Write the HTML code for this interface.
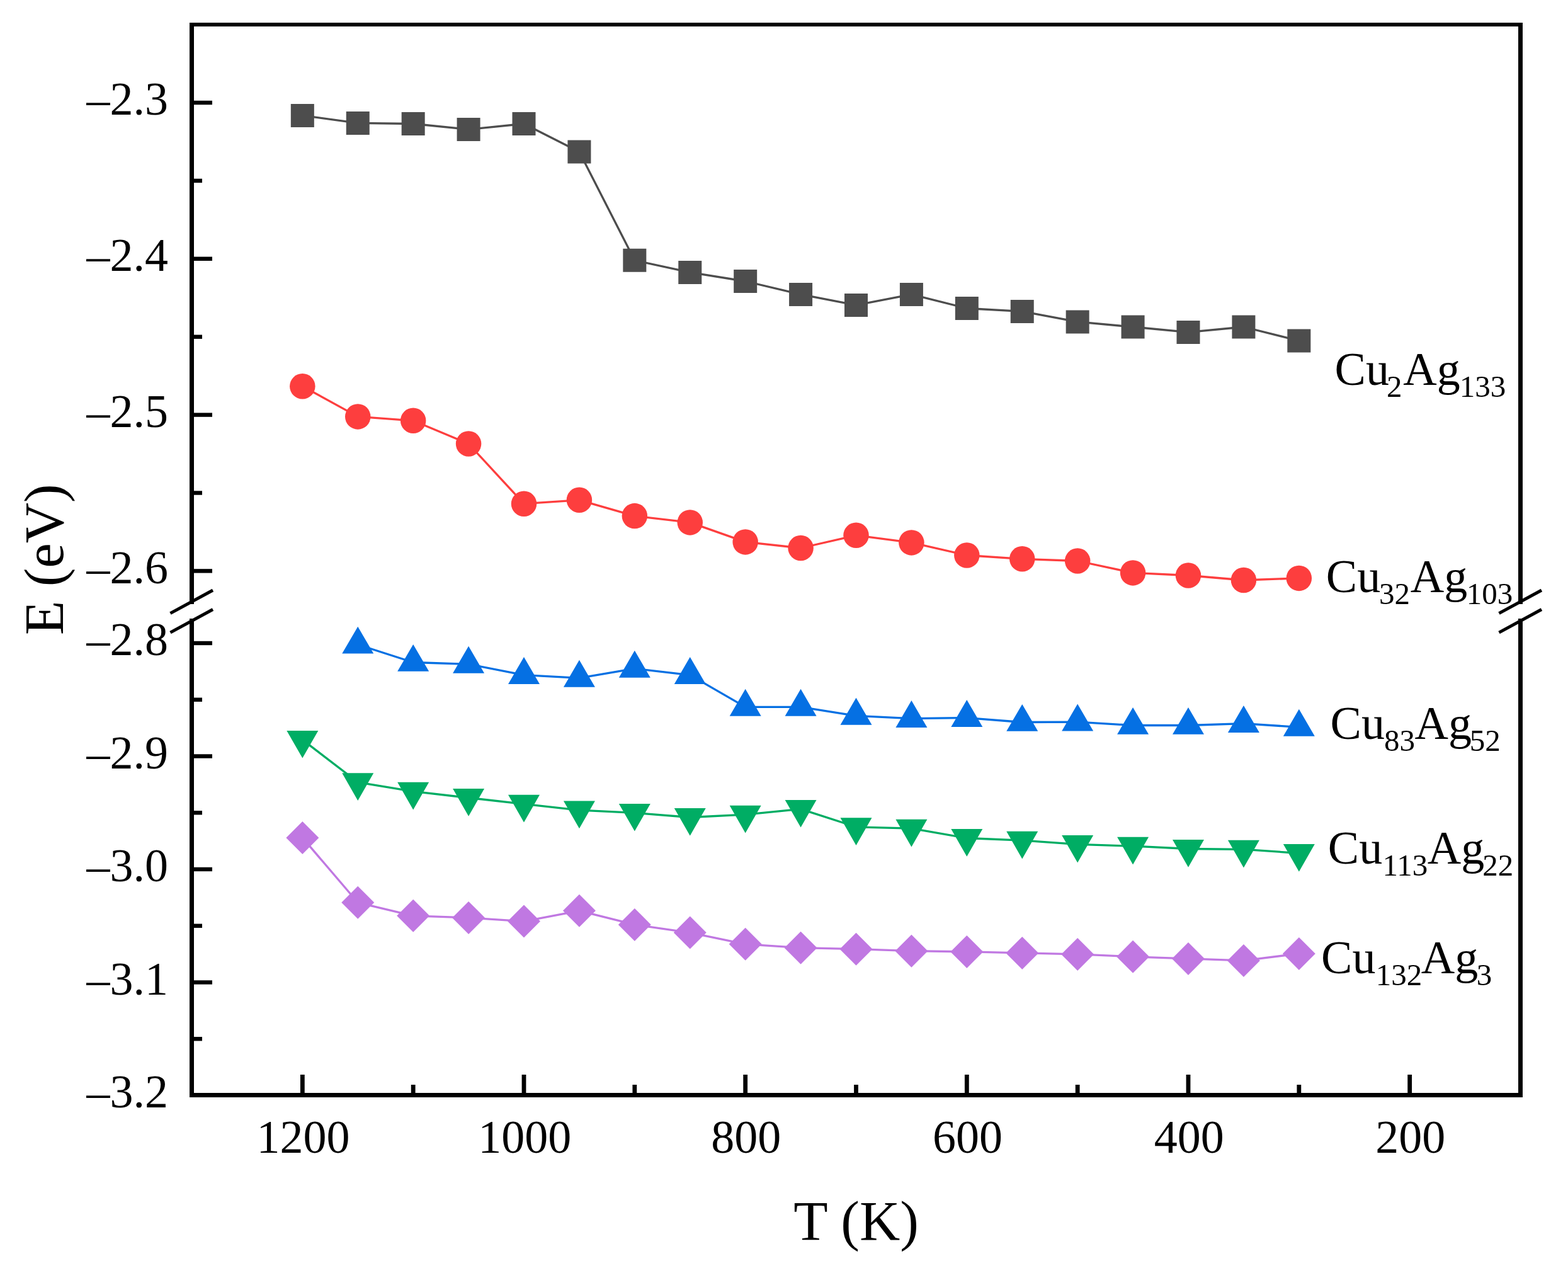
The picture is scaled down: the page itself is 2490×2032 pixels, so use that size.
<!DOCTYPE html>
<html><head><meta charset="utf-8"><title>E vs T</title>
<style>
html,body{margin:0;padding:0;background:#fff;}
body{width:2490px;height:2032px;overflow:hidden;position:relative;}
svg{position:absolute;left:0;top:0;display:block;}
text{font-family:"Liberation Serif","Times New Roman",serif;fill:#000;}
</style></head><body>
<svg width="2490" height="2032" viewBox="0 0 2490 2032">
<rect width="2490" height="2032" fill="#fff"/>
<g fill="#000"><rect x="301" y="36" width="2117" height="6"/><rect x="301" y="1735" width="2117" height="7"/><rect x="301" y="36" width="7" height="923"/><rect x="301" y="982" width="7" height="760"/><rect x="2411" y="36" width="7" height="923"/><rect x="2411" y="982" width="7" height="760"/><rect x="308" y="159.8" width="29" height="6.4"/><rect x="308" y="407.6" width="29" height="6.4"/><rect x="308" y="655.4" width="29" height="6.4"/><rect x="308" y="903.2" width="29" height="6.4"/><rect x="308" y="1017.8" width="29" height="6.4"/><rect x="308" y="1197.3" width="29" height="6.4"/><rect x="308" y="1376.8" width="29" height="6.4"/><rect x="308" y="1556.3" width="29" height="6.4"/><rect x="308" y="283.7" width="13" height="6.4"/><rect x="308" y="531.5" width="13" height="6.4"/><rect x="308" y="779.3" width="13" height="6.4"/><rect x="308" y="1107.55" width="13" height="6.4"/><rect x="308" y="1287.05" width="13" height="6.4"/><rect x="308" y="1466.55" width="13" height="6.4"/><rect x="308" y="1646.05" width="13" height="6.4"/><rect x="476.93" y="1706" width="6.8" height="30"/><rect x="828.6" y="1706" width="6.8" height="30"/><rect x="1180.27" y="1706" width="6.8" height="30"/><rect x="1531.93" y="1706" width="6.8" height="30"/><rect x="1883.6" y="1706" width="6.8" height="30"/><rect x="2235.27" y="1706" width="6.8" height="30"/><rect x="652.77" y="1722" width="6.8" height="14"/><rect x="1004.43" y="1722" width="6.8" height="14"/><rect x="1356.1" y="1722" width="6.8" height="14"/><rect x="1707.77" y="1722" width="6.8" height="14"/><rect x="2059.43" y="1722" width="6.8" height="14"/></g>
<g stroke="#000" stroke-width="5"><line x1="270.5" y1="973.6" x2="338" y2="937" /><line x1="270.5" y1="1004.1" x2="338" y2="967.5" /><line x1="2380.5" y1="973.6" x2="2448" y2="937" /><line x1="2380.5" y1="1004.1" x2="2448" y2="967.5" /></g>
<g font-size="74"><text x="267" y="182.4" text-anchor="end">&#8211;2.3</text><text x="267" y="430.2" text-anchor="end">&#8211;2.4</text><text x="267" y="678" text-anchor="end">&#8211;2.5</text><text x="267" y="925.8" text-anchor="end">&#8211;2.6</text><text x="267" y="1040.4" text-anchor="end">&#8211;2.8</text><text x="267" y="1219.9" text-anchor="end">&#8211;2.9</text><text x="267" y="1399.4" text-anchor="end">&#8211;3.0</text><text x="267" y="1578.9" text-anchor="end">&#8211;3.1</text><text x="267" y="1758.4" text-anchor="end">&#8211;3.2</text><text x="481.53" y="1830" text-anchor="middle">1200</text><text x="833.2" y="1830" text-anchor="middle">1000</text><text x="1184.87" y="1830" text-anchor="middle">800</text><text x="1536.53" y="1830" text-anchor="middle">600</text><text x="1888.2" y="1830" text-anchor="middle">400</text><text x="2239.87" y="1830" text-anchor="middle">200</text></g>
<text x="1359.6" y="1967.5" font-size="89" text-anchor="middle">T (K)</text>
<text transform="translate(100 888.1) rotate(-90)" font-size="89" text-anchor="middle">E (eV)</text>
<polyline points="480.33,183.4 568.25,195.4 656.17,196.5 744.08,205.4 832,196.5 919.92,241 1007.83,413.3 1095.75,432.4 1183.67,446.5 1271.58,467.4 1359.5,484.4 1447.42,467.4 1535.33,489.5 1623.25,494.4 1711.17,510.9 1799.08,519 1887,527.4 1974.92,519 2062.83,541" fill="none" stroke="#4d4d4d" stroke-width="3.3" stroke-linejoin="round"/><path d="M461.83 164.9h37v37h-37zM549.75 176.9h37v37h-37zM637.67 178h37v37h-37zM725.58 186.9h37v37h-37zM813.5 178h37v37h-37zM901.42 222.5h37v37h-37zM989.33 394.8h37v37h-37zM1077.25 413.9h37v37h-37zM1165.17 428h37v37h-37zM1253.08 448.9h37v37h-37zM1341 465.9h37v37h-37zM1428.92 448.9h37v37h-37zM1516.83 471h37v37h-37zM1604.75 475.9h37v37h-37zM1692.67 492.4h37v37h-37zM1780.58 500.5h37v37h-37zM1868.5 508.9h37v37h-37zM1956.42 500.5h37v37h-37zM2044.33 522.5h37v37h-37z" fill="#4d4d4d"/>
<polyline points="480.33,613.2 568.25,661.4 656.17,667.8 744.08,704.5 832,799.7 919.92,793.8 1007.83,819.1 1095.75,829.4 1183.67,860.4 1271.58,870 1359.5,849.8 1447.42,861.4 1535.33,881.5 1623.25,887.3 1711.17,890.5 1799.08,909.4 1887,913.5 1974.92,921 2062.83,917.9" fill="none" stroke="#fd3e3e" stroke-width="3.3" stroke-linejoin="round"/><circle cx="480.33" cy="613.2" r="20.25" fill="#fd3e3e"/><circle cx="568.25" cy="661.4" r="20.25" fill="#fd3e3e"/><circle cx="656.17" cy="667.8" r="20.25" fill="#fd3e3e"/><circle cx="744.08" cy="704.5" r="20.25" fill="#fd3e3e"/><circle cx="832" cy="799.7" r="20.25" fill="#fd3e3e"/><circle cx="919.92" cy="793.8" r="20.25" fill="#fd3e3e"/><circle cx="1007.83" cy="819.1" r="20.25" fill="#fd3e3e"/><circle cx="1095.75" cy="829.4" r="20.25" fill="#fd3e3e"/><circle cx="1183.67" cy="860.4" r="20.25" fill="#fd3e3e"/><circle cx="1271.58" cy="870" r="20.25" fill="#fd3e3e"/><circle cx="1359.5" cy="849.8" r="20.25" fill="#fd3e3e"/><circle cx="1447.42" cy="861.4" r="20.25" fill="#fd3e3e"/><circle cx="1535.33" cy="881.5" r="20.25" fill="#fd3e3e"/><circle cx="1623.25" cy="887.3" r="20.25" fill="#fd3e3e"/><circle cx="1711.17" cy="890.5" r="20.25" fill="#fd3e3e"/><circle cx="1799.08" cy="909.4" r="20.25" fill="#fd3e3e"/><circle cx="1887" cy="913.5" r="20.25" fill="#fd3e3e"/><circle cx="1974.92" cy="921" r="20.25" fill="#fd3e3e"/><circle cx="2062.83" cy="917.9" r="20.25" fill="#fd3e3e"/>
<polyline points="568.25,1023.3 656.17,1051.5 744.08,1054.4 832,1071.6 919.92,1076.4 1007.83,1061.4 1095.75,1071.6 1183.67,1122.4 1271.58,1122.4 1359.5,1136.4 1447.42,1140.7 1535.33,1139.6 1623.25,1146.5 1711.17,1146.1 1799.08,1151.5 1887,1151.5 1974.92,1148.6 2062.83,1154.4" fill="none" stroke="#0570e3" stroke-width="3.3" stroke-linejoin="round"/><path d="M568.25 994.7L593.25 1037.6L543.25 1037.6zM656.17 1022.9L681.17 1065.8L631.17 1065.8zM744.08 1025.8L769.08 1068.7L719.08 1068.7zM832 1043L857 1085.9L807 1085.9zM919.92 1047.8L944.92 1090.7L894.92 1090.7zM1007.83 1032.8L1032.83 1075.7L982.83 1075.7zM1095.75 1043L1120.75 1085.9L1070.75 1085.9zM1183.67 1093.8L1208.67 1136.7L1158.67 1136.7zM1271.58 1093.8L1296.58 1136.7L1246.58 1136.7zM1359.5 1107.8L1384.5 1150.7L1334.5 1150.7zM1447.42 1112.1L1472.42 1155L1422.42 1155zM1535.33 1111L1560.33 1153.9L1510.33 1153.9zM1623.25 1117.9L1648.25 1160.8L1598.25 1160.8zM1711.17 1117.5L1736.17 1160.4L1686.17 1160.4zM1799.08 1122.9L1824.08 1165.8L1774.08 1165.8zM1887 1122.9L1912 1165.8L1862 1165.8zM1974.92 1120L1999.92 1162.9L1949.92 1162.9zM2062.83 1125.8L2087.83 1168.7L2037.83 1168.7z" fill="#0570e3"/>
<polyline points="480.33,1174.4 568.25,1241.8 656.17,1256.3 744.08,1266.5 832,1276.3 919.92,1286.1 1007.83,1290.4 1095.75,1297.5 1183.67,1293.2 1271.58,1284.4 1359.5,1312.8 1447.42,1315.2 1535.33,1330.5 1623.25,1334.2 1711.17,1340.4 1799.08,1343.2 1887,1347.5 1974.92,1348.3 2062.83,1354.5" fill="none" stroke="#00ad64" stroke-width="3.3" stroke-linejoin="round"/><path d="M480.33 1203.6L505.33 1159.9L455.33 1159.9zM568.25 1271L593.25 1227.3L543.25 1227.3zM656.17 1285.5L681.17 1241.8L631.17 1241.8zM744.08 1295.7L769.08 1252L719.08 1252zM832 1305.5L857 1261.8L807 1261.8zM919.92 1315.3L944.92 1271.6L894.92 1271.6zM1007.83 1319.6L1032.83 1275.9L982.83 1275.9zM1095.75 1326.7L1120.75 1283L1070.75 1283zM1183.67 1322.4L1208.67 1278.7L1158.67 1278.7zM1271.58 1313.6L1296.58 1269.9L1246.58 1269.9zM1359.5 1342L1384.5 1298.3L1334.5 1298.3zM1447.42 1344.4L1472.42 1300.7L1422.42 1300.7zM1535.33 1359.7L1560.33 1316L1510.33 1316zM1623.25 1363.4L1648.25 1319.7L1598.25 1319.7zM1711.17 1369.6L1736.17 1325.9L1686.17 1325.9zM1799.08 1372.4L1824.08 1328.7L1774.08 1328.7zM1887 1376.7L1912 1333L1862 1333zM1974.92 1377.5L1999.92 1333.8L1949.92 1333.8zM2062.83 1383.7L2087.83 1340L2037.83 1340z" fill="#00ad64"/>
<polyline points="480.33,1329.9 568.25,1432.8 656.17,1453.8 744.08,1456.9 832,1462.6 919.92,1445.8 1007.83,1467.9 1095.75,1480.6 1183.67,1498.8 1271.58,1504.7 1359.5,1506.7 1447.42,1509.7 1535.33,1510.9 1623.25,1512.9 1711.17,1514.9 1799.08,1518.8 1887,1521.9 1974.92,1524.9 2062.83,1513.9" fill="none" stroke="#c078e2" stroke-width="3.3" stroke-linejoin="round"/><path d="M480.33 1303.9L506.33 1329.9L480.33 1355.9L454.33 1329.9zM568.25 1406.8L594.25 1432.8L568.25 1458.8L542.25 1432.8zM656.17 1427.8L682.17 1453.8L656.17 1479.8L630.17 1453.8zM744.08 1430.9L770.08 1456.9L744.08 1482.9L718.08 1456.9zM832 1436.6L858 1462.6L832 1488.6L806 1462.6zM919.92 1419.8L945.92 1445.8L919.92 1471.8L893.92 1445.8zM1007.83 1441.9L1033.83 1467.9L1007.83 1493.9L981.83 1467.9zM1095.75 1454.6L1121.75 1480.6L1095.75 1506.6L1069.75 1480.6zM1183.67 1472.8L1209.67 1498.8L1183.67 1524.8L1157.67 1498.8zM1271.58 1478.7L1297.58 1504.7L1271.58 1530.7L1245.58 1504.7zM1359.5 1480.7L1385.5 1506.7L1359.5 1532.7L1333.5 1506.7zM1447.42 1483.7L1473.42 1509.7L1447.42 1535.7L1421.42 1509.7zM1535.33 1484.9L1561.33 1510.9L1535.33 1536.9L1509.33 1510.9zM1623.25 1486.9L1649.25 1512.9L1623.25 1538.9L1597.25 1512.9zM1711.17 1488.9L1737.17 1514.9L1711.17 1540.9L1685.17 1514.9zM1799.08 1492.8L1825.08 1518.8L1799.08 1544.8L1773.08 1518.8zM1887 1495.9L1913 1521.9L1887 1547.9L1861 1521.9zM1974.92 1498.9L2000.92 1524.9L1974.92 1550.9L1948.92 1524.9zM2062.83 1487.9L2088.83 1513.9L2062.83 1539.9L2036.83 1513.9z" fill="#c078e2"/>
<text x="2119.6" y="611.2" font-size="74">Cu<tspan x="2201.95" dy="19.2" font-size="49">2</tspan><tspan x="2228.3" dy="-19.2">Ag</tspan><tspan x="2317.7" dy="19.2" font-size="49">133</tspan></text>
<text x="2105.8" y="940.2" font-size="74">Cu<tspan x="2189.95" dy="19.2" font-size="49">32</tspan><tspan x="2239.7" dy="-19.2">Ag</tspan><tspan x="2328.7" dy="19.2" font-size="49">103</tspan></text>
<text x="2112.6" y="1172.9" font-size="74">Cu<tspan x="2197.9" dy="19.2" font-size="49">83</tspan><tspan x="2246.5" dy="-19.2">Ag</tspan><tspan x="2333.85" dy="19.2" font-size="49">52</tspan></text>
<text x="2108.8" y="1370.7" font-size="74">Cu<tspan x="2195.5" dy="19.2" font-size="49">113</tspan><tspan x="2266.8" dy="-19.2">Ag</tspan><tspan x="2354.15" dy="19.2" font-size="49">22</tspan></text>
<text x="2098.1" y="1545" font-size="74">Cu<tspan x="2184.8" dy="19.2" font-size="49">132</tspan><tspan x="2256.8" dy="-19.2">Ag</tspan><tspan x="2344.65" dy="19.2" font-size="49">3</tspan></text>
</svg>
</body></html>
